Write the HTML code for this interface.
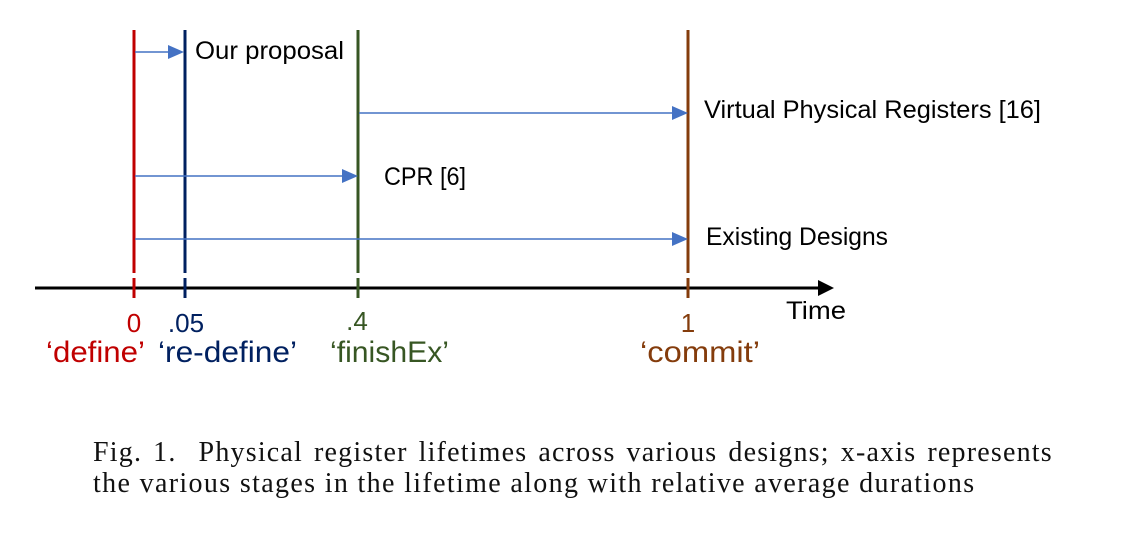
<!DOCTYPE html>
<html><head><meta charset="utf-8"><style>
body{margin:0;background:#fff;width:1133px;height:544px;overflow:hidden;position:relative}
svg{position:absolute;left:0;top:0}
.cap{position:absolute;left:93px;width:962px;font-family:"Liberation Serif",serif;font-size:28px;letter-spacing:1.2px;color:#111;line-height:31px;white-space:nowrap}
</style></head><body>
<svg width="1133" height="544" font-family="Liberation Sans, sans-serif">
<line x1="35" y1="288" x2="822" y2="288" stroke="#000" stroke-width="3"/>
<polygon points="818,280 834,288 818,296" fill="#000"/>
<line x1="134" y1="30" x2="134" y2="273" stroke="#c00000" stroke-width="3"/>
<line x1="134" y1="278" x2="134" y2="298" stroke="#c00000" stroke-width="3"/>
<line x1="185" y1="30" x2="185" y2="273" stroke="#002060" stroke-width="3"/>
<line x1="185" y1="278" x2="185" y2="298" stroke="#002060" stroke-width="3"/>
<line x1="358" y1="30" x2="358" y2="273" stroke="#375623" stroke-width="3"/>
<line x1="358" y1="278" x2="358" y2="298" stroke="#375623" stroke-width="3"/>
<line x1="688" y1="30" x2="688" y2="273" stroke="#843c0c" stroke-width="3"/>
<line x1="688" y1="278" x2="688" y2="298" stroke="#843c0c" stroke-width="3"/>
<g stroke="#4472c4" stroke-width="1.5">
<line x1="135" y1="52" x2="170" y2="52"/>
<line x1="359" y1="113" x2="673" y2="113"/>
<line x1="135" y1="176" x2="343" y2="176"/>
<line x1="135" y1="239" x2="673" y2="239"/>
</g>
<g fill="#4472c4">
<polygon points="168,45 184,52 168,59"/>
<polygon points="672,106 688,113 672,120"/>
<polygon points="342,169 358,176 342,183"/>
<polygon points="672,232 688,239 672,246"/>
</g>
<g font-size="25" fill="#000">
<text x="195" y="59" textLength="149" lengthAdjust="spacingAndGlyphs">Our proposal</text>
<text x="704" y="118" textLength="337" lengthAdjust="spacingAndGlyphs">Virtual Physical Registers [16]</text>
<text x="384" y="185" textLength="82" lengthAdjust="spacingAndGlyphs">CPR [6]</text>
<text x="706" y="245" textLength="182" lengthAdjust="spacingAndGlyphs">Existing Designs</text>
<text x="786" y="319" textLength="60" lengthAdjust="spacingAndGlyphs">Time</text>
</g>
<g font-size="26">
<text x="134" y="332" fill="#c00000" text-anchor="middle">0</text>
<text x="186" y="332" fill="#002060" text-anchor="middle">.05</text>
<text x="357" y="330" fill="#375623" text-anchor="middle">.4</text>
<text x="688" y="332" fill="#843c0c" text-anchor="middle">1</text>
</g>
<g font-size="30">
<text x="46" y="362" fill="#c00000" textLength="99" lengthAdjust="spacingAndGlyphs">‘define’</text>
<text x="158" y="362" fill="#002060" textLength="139" lengthAdjust="spacingAndGlyphs">‘re-define’</text>
<text x="330" y="362" fill="#375623" textLength="119" lengthAdjust="spacingAndGlyphs">‘finishEx’</text>
<text x="640" y="362" fill="#843c0c" textLength="120" lengthAdjust="spacingAndGlyphs">‘commit’</text>
</g>
</svg>
<div class="cap" style="top:437px;word-spacing:2.8px">Fig. 1.&nbsp; Physical register lifetimes across various designs; x-axis represents</div>
<div class="cap" style="top:468px;letter-spacing:1.35px">the various stages in the lifetime along with relative average durations</div>
</body></html>
